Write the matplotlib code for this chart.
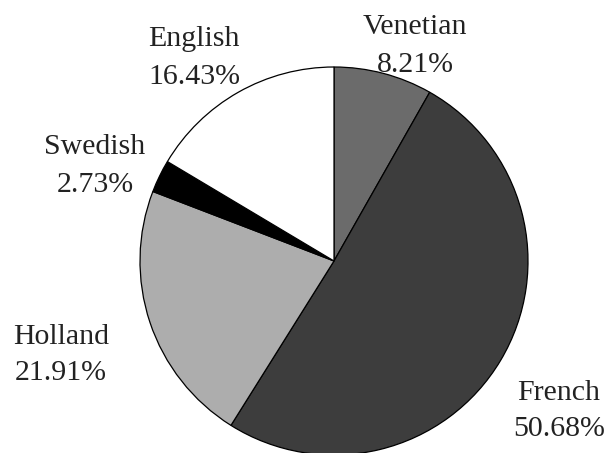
import matplotlib
matplotlib.use("Agg")
import matplotlib.pyplot as plt

# share of each origin, clockwise from the top
origins = ["Venetian", "French", "Holland", "Swedish", "English"]
shares = [8.21, 50.68, 21.91, 2.73, 16.43]
fills = ["#6b6b6b", "#3d3d3d", "#adadad", "#000000", "#ffffff"]

# label centres in pixels (x, y from top)
label_px = {
    "Venetian": (415, 46),
    "French": (559, 411),
    "Holland": (61, 355),
    "Swedish": (95, 166),
    "English": (194, 58),
}

W, H = 607, 453
cx, cy, r = 334, 261, 194

plt.rcParams["font.family"] = ["Liberation Serif", "DejaVu Serif"]

fig = plt.figure(figsize=(W / 100, H / 100), dpi=100)
ax = fig.add_axes([0, 0, 1, 1])
ax.pie(shares, colors=fills, startangle=90, counterclock=False, radius=1,
       wedgeprops=dict(edgecolor="black", linewidth=0.9))
ax.set_xlim(-cx / r, (W - cx) / r)
ax.set_ylim(-(H - cy) / r, cy / r)
ax.set_aspect("auto")
ax.axis("off")

for name, val in zip(origins, shares):
    x, y = label_px[name]
    fig.text(x / W, 1 - y / H, f"{name}\n{val:.2f}%", ha="center", va="center",
             fontsize=21.5, linespacing=1.55, color="#222222")

fig.savefig("out.png", dpi=100)
